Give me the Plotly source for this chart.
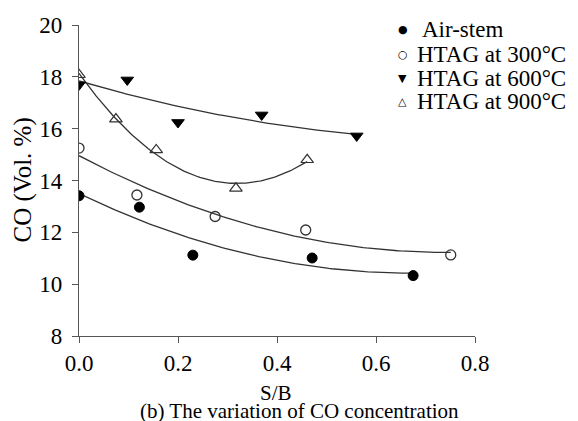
import numpy as np
import plotly.graph_objects as go

# ---- data ----
air_x = [0.0, 0.122, 0.230, 0.471, 0.675]
air_y = [13.41, 12.97, 11.12, 11.01, 10.33]

h300_x = [0.0, 0.117, 0.275, 0.458, 0.751]
h300_y = [15.25, 13.44, 12.61, 12.09, 11.13]

h600_x = [0.0, 0.0975, 0.200, 0.369, 0.561]
h600_y = [17.69, 17.88, 16.24, 16.53, 15.72]

h900_x = [0.0, 0.0746, 0.156, 0.317, 0.461]
h900_y = [18.08, 16.37, 15.18, 13.70, 14.80]

series_names = ["Air-stem", "HTAG at 300°C", "HTAG at 600°C", "HTAG at 900°C"]
legend_glyphs = ["●", "○", "▼", "△"]

x_ticks = [0.0, 0.2, 0.4, 0.6, 0.8]
x_tick_labels = ["0.0", "0.2", "0.4", "0.6", "0.8"]
y_ticks = [8, 10, 12, 14, 16, 18, 20]
y_tick_labels = ["8", "10", "12", "14", "16", "18", "20"]

FONT = "Liberation Serif, Times New Roman, serif"
LINE = "#333"

markers = [
    dict(symbol="circle", size=10, color="black", line=dict(color="black", width=1)),
    dict(symbol="circle-open", size=10, color=LINE, line=dict(color=LINE, width=1.3)),
    dict(symbol="triangle-down", size=11, color="black", line=dict(color="black", width=1)),
    dict(symbol="triangle-up-open", size=11, color=LINE, line=dict(color=LINE, width=1.2)),
]
xs_all = [air_x, h300_x, h600_x, h900_x]
ys_all = [air_y, h300_y, h600_y, h900_y]

fig = go.Figure()
for xs, ys in zip(xs_all, ys_all):
    coef = np.polyfit(xs, ys, 2)
    xf = np.linspace(min(xs), max(xs), 120)
    fig.add_trace(go.Scatter(x=xf, y=np.polyval(coef, xf), mode="lines",
                             showlegend=False, line=dict(color=LINE, width=1.3),
                             hoverinfo="skip"))
for name, xs, ys, mk in zip(series_names, xs_all, ys_all, markers):
    fig.add_trace(go.Scatter(x=xs, y=ys, mode="markers", name=name, marker=mk,
                             showlegend=False))

# compact legend built from text (row spacing of the original is tighter than Plotly's)
legend_rows_y = [0.985, 0.906, 0.829, 0.755]
annotations = []
for i, (g, name) in enumerate(zip(legend_glyphs, series_names)):
    annotations.append(dict(text=g, xref="paper", yref="paper", x=0.818,
                            y=legend_rows_y[i], showarrow=False, xanchor="center",
                            yanchor="middle",
                            font=dict(family="DejaVu Sans", size=11, color="black")))
    annotations.append(dict(text=name, xref="paper", yref="paper",
                            x=0.861 if i == 0 else 0.849, y=legend_rows_y[i],
                            showarrow=False, xanchor="left", yanchor="middle",
                            font=dict(family=FONT, size=23, color="black")))

annotations += [
    dict(text="CO (Vol. %)", xref="paper", yref="paper", x=0, y=0.5,
         xshift=-57, textangle=-90, showarrow=False, xanchor="center",
         yanchor="middle", font=dict(family=FONT, size=25)),
    dict(text="S/B", xref="paper", yref="paper", x=0.498, y=0,
         yshift=-57, showarrow=False, xanchor="center", yanchor="middle",
         font=dict(family=FONT, size=21)),
    dict(text="(b) The variation of CO concentration", xref="paper", yref="paper",
         x=0.558, y=0, yshift=-75, showarrow=False, xanchor="center",
         yanchor="middle", font=dict(family=FONT, size=21)),
]

fig.update_layout(
    width=578, height=421,
    margin=dict(l=79, r=103, t=25, b=85),
    paper_bgcolor="white", plot_bgcolor="white",
    font=dict(family=FONT, size=23, color="black"),
    showlegend=False,
    xaxis=dict(range=[0, 0.8], tickvals=x_ticks, ticktext=x_tick_labels,
               showgrid=False, zeroline=False, showline=True, linecolor="#555",
               linewidth=1.3, ticks="outside", ticklen=6, tickcolor="#555",
               tickfont=dict(family=FONT, size=23), ticklabelstandoff=0),
    yaxis=dict(range=[8, 20], tickvals=y_ticks, ticktext=y_tick_labels,
               showgrid=False, zeroline=False, showline=True, linecolor="#555",
               linewidth=1.3, ticks="outside", ticklen=6, tickcolor="#555",
               tickfont=dict(family=FONT, size=23), ticklabelstandoff=5),
    annotations=annotations,
)

fig.write_html("out.html", config={"displayModeBar": False},
               post_script="document.body.style.margin='0';")
